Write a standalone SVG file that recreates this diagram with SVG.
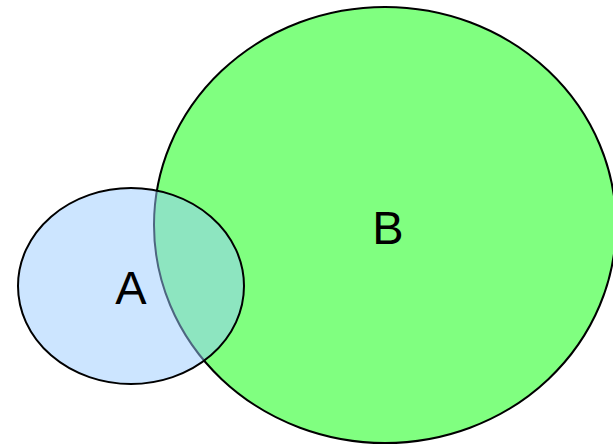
<svg xmlns="http://www.w3.org/2000/svg" width="613" height="444" viewBox="0 0 613 444">
<style>
.set{stroke:#000;stroke-width:2}
.lbl{font-family:"Liberation Sans",Arial,sans-serif;fill:#000;text-anchor:middle;font-size:47px}
</style>
<rect width="613" height="444" fill="#fff"/>
<g id="B">
<ellipse class="set" cx="385" cy="225" rx="231" ry="218" fill="#80ff80"/>
<text class="lbl" x="388" y="244">B</text>
</g>
<g id="A">
<ellipse class="set" cx="131" cy="286" rx="113" ry="98" fill="#99ccff" fill-opacity="0.5"/>
<text class="lbl" x="131" y="304">A</text>
</g>
<g id="connectors"/>
</svg>
